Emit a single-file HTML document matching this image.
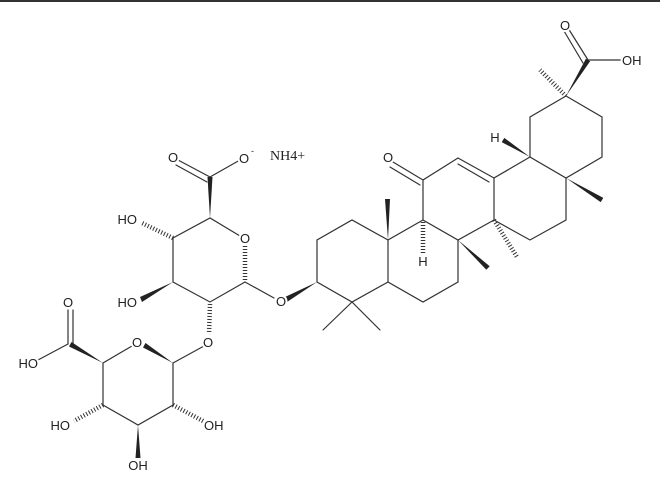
<!DOCTYPE html>
<html><head><meta charset="utf-8"><style>
html,body{margin:0;padding:0;background:#fff;}
svg{display:block;}
text{font-family:"Liberation Sans",Arial,sans-serif;font-size:13px;fill:#222;paint-order:stroke;stroke:#fff;stroke-width:4px;}
</style></head><body>
<svg width="660" height="487" viewBox="0 0 660 487">
<rect x="0" y="0" width="660" height="2" fill="#333"/>
<g stroke="#333" stroke-width="1.2" fill="none" stroke-linecap="round">
<!-- E ring -->
<polyline points="566,96 602,117 602,157 566,178 530,157 530,117 566,96"/>
<!-- COOH top right -->
<line x1="588" y1="60" x2="625" y2="60"/>
<line x1="588" y1="60" x2="568" y2="28"/>
<line x1="583" y1="63" x2="564" y2="31"/>
<!-- D ring -->
<polyline points="566,178 566,220 530,240 494,220 494,178 530,157"/>
<!-- C ring -->
<line x1="494" y1="178" x2="458" y2="158"/>
<line x1="489" y1="182" x2="458" y2="164"/>
<polyline points="458,158 423,180 423,220 458,240 494,220"/>
<line x1="423" y1="180" x2="393" y2="162"/>
<line x1="420" y1="185" x2="390" y2="167"/>
<!-- B ring -->
<polyline points="458,240 458,282 423,302 388,282 388,240 423,220"/>
<!-- A ring -->
<polyline points="388,240 352,220 317,240 317,282 352,302 388,282"/>
<line x1="352" y1="302" x2="323" y2="330"/>
<line x1="352" y1="302" x2="380" y2="330"/>
<!-- sugar 1 -->
<polyline points="245,282 210,302 173,282 173,238 210,218 240,236"/>
<line x1="245" y1="282" x2="274" y2="298"/>
<line x1="210" y1="177" x2="240" y2="160"/>
<line x1="210" y1="177" x2="178" y2="160"/>
<line x1="207" y1="182" x2="176" y2="165"/>
<!-- sugar 2 -->
<polyline points="173,363 173,405 138,425 103,405 103,363 132,346"/>
<line x1="173" y1="363" x2="204" y2="346"/>
<line x1="68" y1="344" x2="68" y2="310"/>
<line x1="73" y1="344" x2="73" y2="310"/>
<line x1="68" y1="344" x2="38" y2="360"/>
</g>
<!-- hashed bonds -->
<g stroke="#333" stroke-width="4.5" stroke-dasharray="1,2" fill="none">
<line x1="566" y1="96" x2="540" y2="70"/>
<line x1="245" y1="246" x2="245" y2="280"/>
<line x1="210" y1="304" x2="209" y2="334"/>
<line x1="173" y1="238" x2="142" y2="223"/>
<line x1="494" y1="220" x2="517" y2="257"/>
<line x1="423" y1="222" x2="423" y2="254"/>
<line x1="103" y1="405" x2="74" y2="421"/>
<line x1="173" y1="405" x2="203" y2="421"/>
</g>
<!-- wedges -->
<g fill="#222">
<polygon points="566,96 590.1,61.3 585.9,58.7"/>
<polygon points="566,178 600.7,202.1 603.3,197.9"/>
<polygon points="530,157 504.3,137.9 501.7,142.1"/>
<polygon points="458,240 486.3,269.8 489.7,266.2"/>
<polygon points="388,240 385,199 390,199"/>
<polygon points="317,282 287,302 285,297"/>
<polygon points="210,218 207.5,177 212.5,177"/>
<polygon points="173,282 142,302 140,297"/>
<polygon points="173,363 143,347.5 145.5,343"/>
<polygon points="103,363 69,346.5 71.5,342"/>
<polygon points="138,425 135.5,458 140.5,458"/>
</g>
<!-- labels -->
<text x="565" y="30" text-anchor="middle">O</text>
<text x="622" y="65">OH</text>
<text x="495" y="142" text-anchor="middle">H</text>
<text x="388" y="162" text-anchor="middle">O</text>
<text x="423" y="266" text-anchor="middle">H</text>
<text x="281" y="306" text-anchor="middle">O</text>
<text x="245" y="243" text-anchor="middle">O</text>
<text x="208" y="347" text-anchor="middle">O</text>
<text x="137" y="347" text-anchor="middle">O</text>
<text x="173" y="162" text-anchor="middle">O</text>
<text x="244" y="163" text-anchor="middle">O</text>
<text x="251" y="154" style="font-size:9px">-</text>
<text x="270" y="160" style="font-family:'Liberation Serif',serif;font-size:14px">NH4+</text>
<text x="137" y="224" text-anchor="end">HO</text>
<text x="137" y="307" text-anchor="end">HO</text>
<text x="68" y="307" text-anchor="middle">O</text>
<text x="38" y="368" text-anchor="end">HO</text>
<text x="70" y="430" text-anchor="end">HO</text>
<text x="138" y="470" text-anchor="middle">OH</text>
<text x="204" y="430">OH</text>
</svg>
</body></html>
